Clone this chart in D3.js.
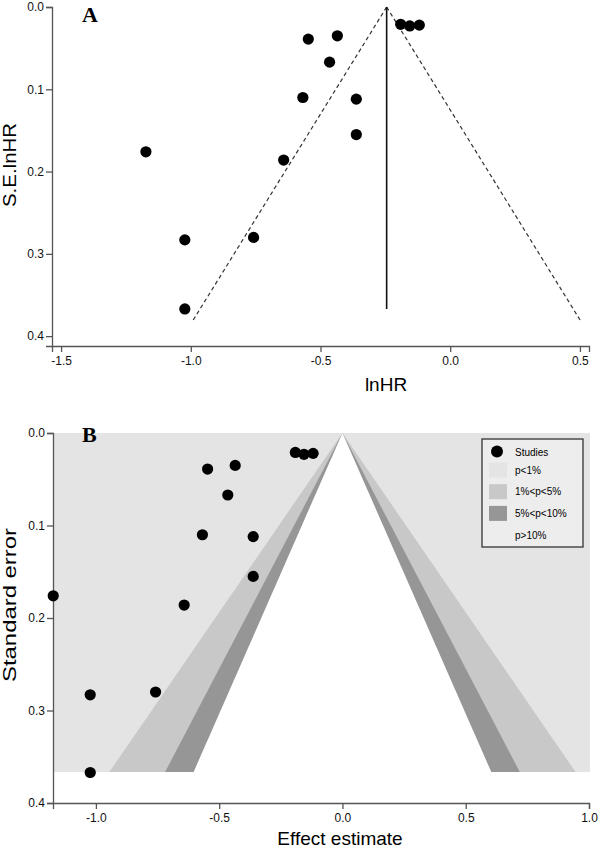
<!DOCTYPE html>
<html>
<head>
<meta charset="utf-8">
<script src="https://cdn.jsdelivr.net/npm/d3@7"></script>
<style>
  html, body { margin: 0; padding: 0; background: #fff; }
  svg { display: block; font-family: "Liberation Sans", Arial, Helvetica, sans-serif; }
</style>
</head>
<body>
<svg id="chart" width="600" height="849"></svg>
<script>
// ---- data ----
const lnHR   = [-1.173, -0.642, -1.023, -1.023, -0.758, -0.547, -0.435, -0.465, -0.568, -0.362, -0.362, -0.191, -0.156, -0.119];
const seLnHR = [0.176, 0.186, 0.283, 0.367, 0.280, 0.039, 0.035, 0.067, 0.110, 0.112, 0.155, 0.021, 0.023, 0.022];
const pooledEstimate = -0.245;
const funnelSeMax = 0.383;
const xTicksA = [-1.5, -1.0, -0.5, 0.0, 0.5];
const yTicksA = [0.0, 0.1, 0.2, 0.3, 0.4];
const xTicksB = [-1.0, -0.5, 0.0, 0.5, 1.0];
const yTicksB = [0.0, 0.1, 0.2, 0.3, 0.4];
const contourLabels = ["p<1%", "1%<p<5%", "5%<p<10%", "p>10%"];
const contourZ = [null, 2.576, 1.96, 1.645];
const contourColors = ["#e4e4e4", "#c8c8c8", "#969696", "#ffffff"];

const svg = d3.select("#chart");
const axisColor = "#555";
const studies = lnHR.map((v, i) => ({x: v, se: seLnHR[i]}));

function drawAxes(g, x, y, xTicks, yTicks, fmt) {
  const xa = g.append("g").attr("transform", `translate(0,${y.range()[1]})`)
    .call(d3.axisBottom(x).tickValues(xTicks).tickFormat(fmt).tickSizeOuter(0).tickSize(6).tickPadding(4));
  const ya = g.append("g").attr("transform", `translate(${x.range()[0]},0)`)
    .call(d3.axisLeft(y).tickValues(yTicks).tickFormat(fmt).tickSizeOuter(0).tickSize(6).tickPadding(2));
  [xa, ya].forEach(a => {
    a.selectAll("path,line").attr("stroke", axisColor).attr("stroke-width", 1.3);
    a.selectAll("text").attr("fill", "#111").style("font-size", "12px")
      .style("font-family", "'Liberation Sans', Arial, sans-serif");
  });
}
const fmt = d3.format(".1f");
const fmtTick = d => fmt(d).replace("−", "-");

// ---------------- Panel A ----------------
const xA = d3.scaleLinear().domain([-1.535, 0.535]).range([52, 589]);
const yA = d3.scaleLinear().domain([0, 0.412]).range([7, 346]);
const gA = svg.append("g");

[-1.96, 1.96].forEach(z => {
  gA.append("line")
    .attr("x1", xA(pooledEstimate)).attr("y1", yA(0))
    .attr("x2", xA(pooledEstimate + z * funnelSeMax)).attr("y2", yA(funnelSeMax))
    .attr("stroke", "#333").attr("stroke-width", 1.2).attr("stroke-dasharray", "4,3");
});
gA.append("line")
  .attr("x1", xA(pooledEstimate)).attr("x2", xA(pooledEstimate))
  .attr("y1", yA(0)).attr("y2", yA(d3.max(seLnHR)))
  .attr("stroke", "#111").attr("stroke-width", 1.6);

drawAxes(gA, xA, yA, xTicksA, yTicksA, fmtTick);

gA.selectAll("circle.pt").data(studies).enter().append("circle")
  .attr("class", "pt")
  .attr("cx", d => xA(d.x)).attr("cy", d => yA(d.se)).attr("r", 5.6).attr("fill", "#000");

gA.append("text").attr("x", 82).attr("y", 22).text("A")
  .style("font-family", "'Liberation Serif', 'Times New Roman', serif")
  .style("font-weight", "bold").style("font-size", "22px");
gA.append("text").attr("x", 386).attr("y", 391).attr("text-anchor", "middle")
  .style("font-size", "19px").text("lnHR");
gA.append("text").attr("transform", "translate(16,165) rotate(-90)").attr("text-anchor", "middle")
  .style("font-size", "19px").attr("textLength", 84).attr("lengthAdjust", "spacingAndGlyphs").text("S.E.lnHR");

// ---------------- Panel B ----------------
const xB = d3.scaleLinear().domain([-1.174, 1.0]).range([53, 589]);
const yB = d3.scaleLinear().domain([0, 0.4]).range([433, 803]);
const gB = svg.append("g");
const seMax = d3.max(seLnHR);
const yBot = Math.round(yB(seMax));

gB.append("rect")
  .attr("x", xB.range()[0]).attr("y", yB(0))
  .attr("width", xB(1.0) - xB.range()[0] + 1).attr("height", yBot - yB(0))
  .attr("fill", contourColors[0]);
contourZ.forEach((z, i) => {
  if (z === null) return;
  const pts = [[xB(0), yB(0)], [xB(-z * seMax), yBot], [xB(z * seMax), yBot]];
  gB.append("path")
    .attr("d", "M" + pts.map(p => p.join(",")).join("L") + "Z")
    .attr("fill", contourColors[i]);
});

drawAxes(gB, xB, yB, xTicksB, yTicksB, fmtTick);

gB.selectAll("circle.pt").data(studies).enter().append("circle")
  .attr("class", "pt")
  .attr("cx", d => xB(d.x)).attr("cy", d => yB(d.se)).attr("r", 5.6).attr("fill", "#000");

gB.append("text").attr("x", 82).attr("y", 442).text("B")
  .style("font-family", "'Liberation Serif', 'Times New Roman', serif")
  .style("font-weight", "bold").style("font-size", "22px");
gB.append("text").attr("x", 340).attr("y", 845).attr("text-anchor", "middle")
  .style("font-size", "19px").text("Effect estimate");
gB.append("text").attr("transform", "translate(16,605) rotate(-90)").attr("text-anchor", "middle")
  .style("font-size", "19px").attr("textLength", 154).attr("lengthAdjust", "spacingAndGlyphs").text("Standard error");

// legend
const lg = gB.append("g");
lg.append("rect").attr("x", 482).attr("y", 439).attr("width", 101).attr("height", 108)
  .attr("fill", "#ededed").attr("stroke", "#333").attr("stroke-width", 1.3);
lg.append("circle").attr("cx", 497).attr("cy", 451.5).attr("r", 6).attr("fill", "#000");
lg.append("text").attr("x", 515).attr("y", 455.5).style("font-size", "10px").text("Studies");
contourLabels.forEach((lab, i) => {
  const cy = 470 + i * 21.7;
  if (i < 3) {
    lg.append("rect").attr("x", 489).attr("y", cy - 7.5).attr("width", 18).attr("height", 15)
      .attr("fill", contourColors[i]);
  }
  lg.append("text").attr("x", 515).attr("y", cy + 3.5).style("font-size", "10px").text(lab);
});
</script>
</body>
</html>
